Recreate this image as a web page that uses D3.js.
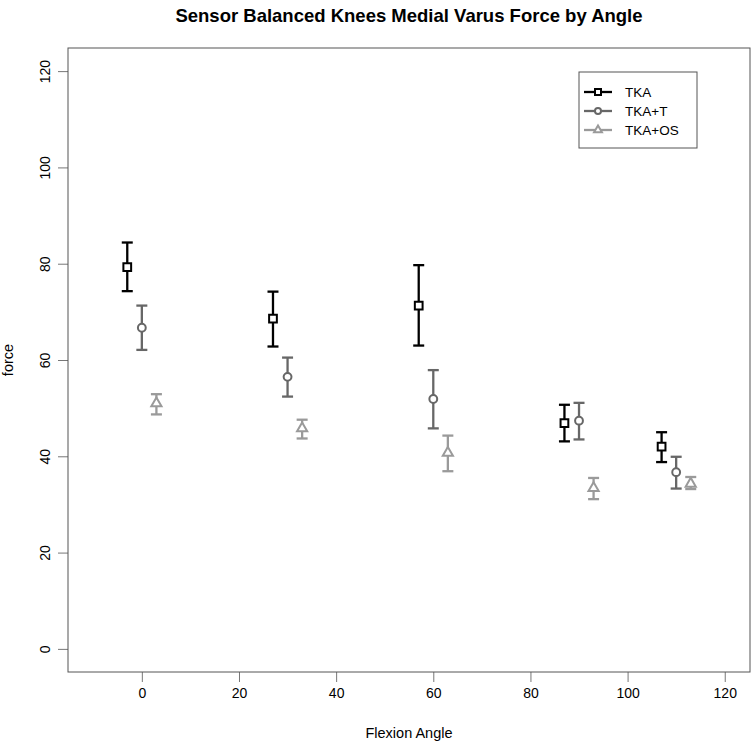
<!DOCTYPE html>
<html>
<head>
<meta charset="utf-8">
<script src="https://cdn.jsdelivr.net/npm/d3@7"></script>
<style>
  body { margin: 0; background: #fff; }
  text { font-family: "Liberation Sans", Arial, Helvetica, sans-serif; }
</style>
</head>
<body>
<div id="chart"></div>
<script>
// data
const angles = [0, 30, 60, 90, 110];
const groups = ["TKA", "TKA+T", "TKA+OS"];
const dodge = [-3, 0, 3];

const tkaMean = [79.3, 68.6, 71.3, 46.9, 42.0];
const tkaLow = [74.3, 62.8, 63.0, 43.1, 38.8];
const tkaHigh = [84.4, 74.2, 79.7, 50.7, 45.0];

const tkaTMean = [66.7, 56.5, 51.9, 47.4, 36.7];
const tkaTLow = [62.1, 52.4, 45.8, 43.5, 33.3];
const tkaTHigh = [71.3, 60.5, 57.9, 51.1, 39.9];

const tkaOSMean = [51.0, 45.8, 40.7, 33.4, 34.3];
const tkaOSLow = [48.7, 43.7, 36.9, 31.1, 33.2];
const tkaOSHigh = [52.9, 47.6, 44.3, 35.5, 35.7];

const xTicks = [0, 20, 40, 60, 80, 100, 120];
const yTicks = [0, 20, 40, 60, 80, 100, 120];

const width = 752, height = 743;
const plotL = 68, plotR = 750, plotT = 48, plotB = 672;

const colors = ["#000000", "#676767", "#9a9a9a"];
const shapes = [d3.symbolSquare, d3.symbolCircle, d3.symbolTriangle];
const sizes = [60, 48, 45];

const series = [
  { mean: tkaMean, low: tkaLow, high: tkaHigh },
  { mean: tkaTMean, low: tkaTLow, high: tkaTHigh },
  { mean: tkaOSMean, low: tkaOSLow, high: tkaOSHigh },
];

const svg = d3.select("#chart").append("svg")
  .attr("width", width).attr("height", height);

// R style: limits stretched by 4%
const x = d3.scaleLinear().domain([-15.2, 125.2]).range([plotL, plotR]);
const y = d3.scaleLinear().domain([-4.8, 124.8]).range([plotB, plotT]);

// title
svg.append("text")
  .attr("x", (plotL + plotR) / 2).attr("y", 22)
  .attr("text-anchor", "middle")
  .style("font-size", "18.5px").style("font-weight", "bold")
  .text("Sensor Balanced Knees Medial Varus Force by Angle");

// x axis
const xAxis = svg.append("g")
  .attr("transform", `translate(0,${plotB})`)
  .call(d3.axisBottom(x).tickValues(xTicks).tickSize(10).tickPadding(6));
xAxis.select(".domain").remove();
xAxis.selectAll("line").attr("stroke", "#777");
xAxis.selectAll("text").style("font-size", "14px").attr("fill", "#000")
  .style("font-family", "Liberation Sans, Arial, sans-serif");

// y axis, labels turned like R
const yAxis = svg.append("g")
  .attr("transform", `translate(${plotL},0)`)
  .call(d3.axisLeft(y).tickValues(yTicks).tickSize(10));
yAxis.select(".domain").remove();
yAxis.selectAll("line").attr("stroke", "#777");
yAxis.selectAll("text")
  .attr("x", null).attr("dy", null)
  .attr("transform", "translate(-22,0) rotate(-90)")
  .attr("text-anchor", "middle")
  .attr("dominant-baseline", "middle")
  .attr("fill", "#000")
  .style("font-size", "14px")
  .style("font-family", "Liberation Sans, Arial, sans-serif");

// plot box
svg.append("rect")
  .attr("x", plotL).attr("y", plotT)
  .attr("width", plotR - plotL).attr("height", plotB - plotT)
  .attr("fill", "none").attr("stroke", "#555").attr("stroke-width", 1);

// axis titles
svg.append("text")
  .attr("x", (plotL + plotR) / 2).attr("y", 738)
  .attr("text-anchor", "middle")
  .style("font-size", "14.5px")
  .text("Flexion Angle");

svg.append("text")
  .attr("transform", `translate(13,${(plotT + plotB) / 2}) rotate(-90)`)
  .attr("text-anchor", "middle")
  .style("font-size", "14.5px")
  .text("force");

// error bars and points
series.forEach((s, gi) => {
  const g = svg.append("g");
  const rows = angles.map((a, i) => ({
    a: a + dodge[gi], m: s.mean[i], lo: s.low[i], hi: s.high[i]
  }));
  const capW = 5.5;

  g.selectAll(".bar").data(rows).join("line")
    .attr("x1", d => x(d.a)).attr("x2", d => x(d.a))
    .attr("y1", d => y(d.lo)).attr("y2", d => y(d.hi))
    .attr("stroke", colors[gi]).attr("stroke-width", 2.3);

  g.selectAll(".capHi").data(rows).join("line")
    .attr("x1", d => x(d.a) - capW).attr("x2", d => x(d.a) + capW)
    .attr("y1", d => y(d.hi)).attr("y2", d => y(d.hi))
    .attr("stroke", colors[gi]).attr("stroke-width", 2.3);

  g.selectAll(".capLo").data(rows).join("line")
    .attr("x1", d => x(d.a) - capW).attr("x2", d => x(d.a) + capW)
    .attr("y1", d => y(d.lo)).attr("y2", d => y(d.lo))
    .attr("stroke", colors[gi]).attr("stroke-width", 2.3);

  g.selectAll(".pt").data(rows).join("path")
    .attr("d", d3.symbol().type(shapes[gi]).size(sizes[gi]))
    .attr("transform", d => `translate(${x(d.a)},${y(d.m)})`)
    .attr("fill", "#fff").attr("stroke", colors[gi]).attr("stroke-width", 2);
});

// legend
const lg = svg.append("g");
lg.append("rect")
  .attr("x", 579).attr("y", 72).attr("width", 118).attr("height", 76)
  .attr("fill", "#fff").attr("stroke", "#555").attr("stroke-width", 1);

groups.forEach((name, gi) => {
  const ly = 92 + gi * 19;
  lg.append("line")
    .attr("x1", 584).attr("x2", 612).attr("y1", ly).attr("y2", ly)
    .attr("stroke", colors[gi]).attr("stroke-width", 2.3);
  lg.append("path")
    .attr("d", d3.symbol().type(shapes[gi]).size(sizes[gi] * 0.6))
    .attr("transform", `translate(598,${ly})`)
    .attr("fill", "#fff").attr("stroke", colors[gi]).attr("stroke-width", 2);
  lg.append("text")
    .attr("x", 625).attr("y", ly + 5)
    .style("font-size", "13.5px")
    .text(name);
});
</script>
</body>
</html>
